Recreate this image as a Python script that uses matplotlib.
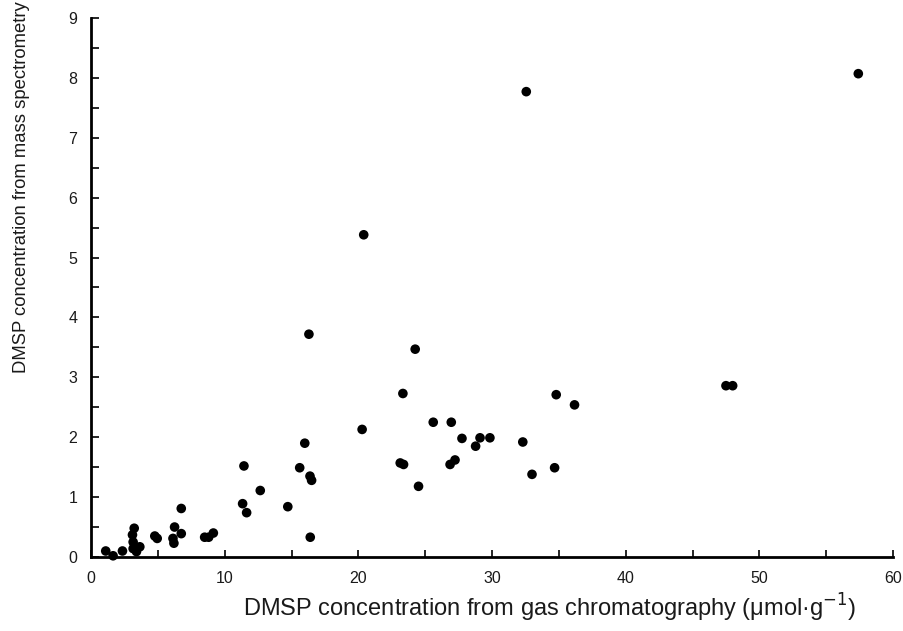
import numpy as np
import matplotlib
matplotlib.use('Agg')
import matplotlib.pyplot as plt
from matplotlib.ticker import MultipleLocator

plt.rcParams['font.family'] = ['Liberation Sans', 'DejaVu Sans']

# DMSP from gas chromatography (umol/g) vs from mass spectrometry
gc = [1.1, 1.65, 2.35, 3.23, 3.1, 3.15, 3.15, 3.65, 3.4,
      4.77, 4.95, 6.13, 6.2, 6.25, 6.75, 6.75, 8.5, 8.8, 9.15,
      11.44, 11.34, 11.64, 12.66, 14.72, 15.61, 15.99, 16.3, 16.38, 16.5, 16.4,
      20.28, 20.4, 23.13, 23.38, 23.33, 24.25, 24.5, 25.6, 26.86, 26.95,
      27.23, 27.75, 28.77, 29.1, 29.84, 32.3, 32.56, 32.99, 34.68, 34.8,
      36.17, 47.5, 48.0, 57.4]
ms = [0.10, 0.02, 0.10, 0.48, 0.37, 0.25, 0.14, 0.17, 0.09,
      0.35, 0.31, 0.31, 0.23, 0.50, 0.39, 0.81, 0.33, 0.33, 0.40,
      1.52, 0.89, 0.74, 1.11, 0.84, 1.49, 1.90, 3.72, 1.35, 1.28, 0.33,
      2.13, 5.38, 1.57, 1.545, 2.73, 3.47, 1.18, 2.25, 1.545, 2.25,
      1.62, 1.98, 1.85, 1.99, 1.99, 1.92, 7.77, 1.38, 1.49, 2.71,
      2.54, 2.86, 2.86, 8.07]

fig = plt.figure(figsize=(9.04, 6.31), dpi=100)
ax = fig.add_axes([0.1007, 0.1173, 0.8872, 0.8542])

ax.scatter(gc, ms, s=48, color='black', edgecolors='none', clip_on=False, zorder=3)

ax.set_xlim(0, 60)
ax.set_ylim(0, 9)
ax.xaxis.set_major_locator(MultipleLocator(10))
ax.xaxis.set_minor_locator(MultipleLocator(5))
ax.yaxis.set_major_locator(MultipleLocator(1))
ax.yaxis.set_minor_locator(MultipleLocator(0.5))

for s in ['top', 'right']:
    ax.spines[s].set_visible(False)
for s in ['left', 'bottom']:
    ax.spines[s].set_linewidth(2)

ax.tick_params(axis='both', which='both', direction='in', width=1.2, colors='black')
ax.tick_params(axis='x', which='both', length=5, pad=10, labelsize=11.5, labelcolor='#1a1a1a')
ax.tick_params(axis='y', which='both', length=6, pad=10, labelsize=11.5, labelcolor='#1a1a1a')

ax.set_xlabel('DMSP concentration from gas chromatography (\u03bcmol\u00b7g$^{-1}$)',
              fontsize=17, color='#1a1a1a', va='center', ha='center')
ax.xaxis.set_label_coords(0.572, -0.0946)
ax.set_ylabel('DMSP concentration from mass spectrometry', fontsize=13.3,
              color='#1a1a1a', va='center', ha='center')
ax.yaxis.set_label_coords(-0.0865, 0.686)

fig.savefig('out.png', dpi=100)
